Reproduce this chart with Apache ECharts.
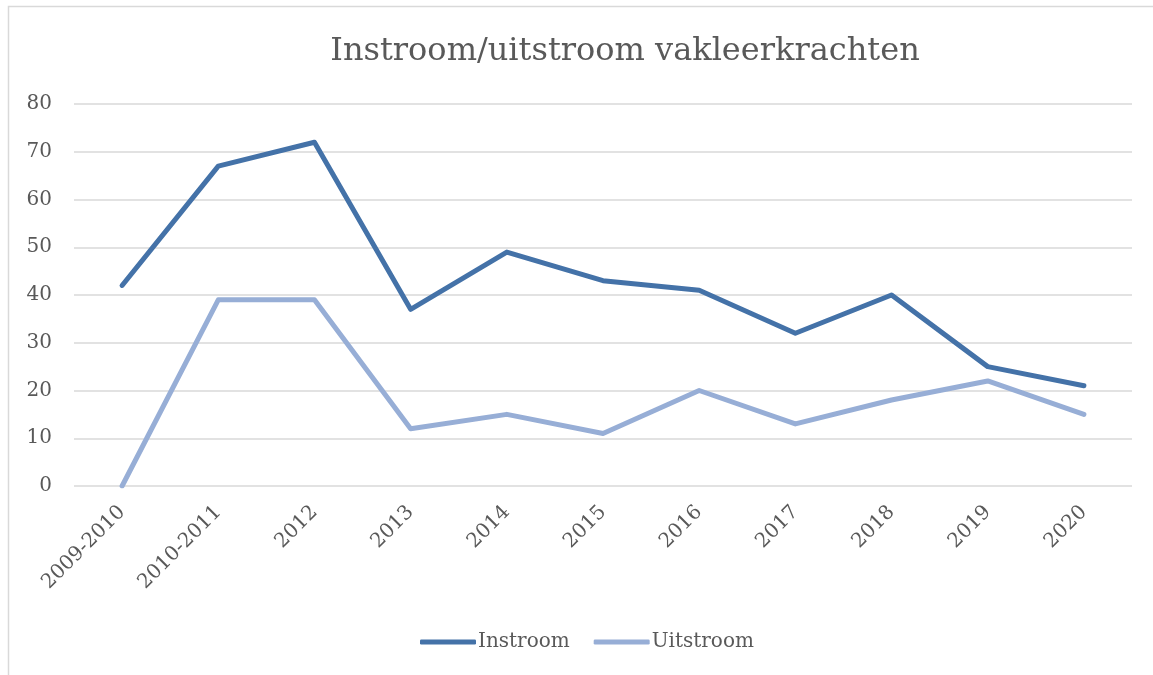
<!DOCTYPE html>
<html><head><meta charset="utf-8">
<script src="https://cdn.jsdelivr.net/npm/echarts@6/dist/echarts.min.js"></script>
<style>html,body{margin:0;padding:0;background:#fff}#c{width:1153px;height:675px}</style>
</head><body><div id="c"></div>
<script>
const categories = ['2009-2010','2010-2011','2012','2013','2014','2015','2016','2017','2018','2019','2020'];
const instroom = [42, 67, 72, 37, 49, 43, 41, 32, 40, 25, 21];
const uitstroom = [0, 39, 39, 12, 15, 11, 20, 13, 18, 22, 15];
const titleText = 'Instroom/uitstroom vakleerkrachten';
const serif = '"DejaVu Serif", serif';
const chart = echarts.init(document.getElementById('c'));
chart.setOption({
  animation: false,
  graphic: [{type:'rect', shape:{x:8.5, y:6.5, width:1300, height:800}, style:{fill:'none', stroke:'#d9d9d9', lineWidth:1.5}, silent:true}],
  title: {text: titleText, left: 620, textAlign: 'center', top: 31,
    textStyle: {fontFamily: serif, fontWeight: 'normal', fontSize: 32, color: '#595959'}},
  legend: {top: 627, left: 415, itemWidth: 56, itemHeight: 5, itemGap: 24,
    icon: 'roundRect',
    textStyle: {fontFamily: serif, fontSize: 20, color: '#595959', padding:[0,0,0,-3]},
    data: ['Instroom','Uitstroom']},
  grid: {left: 74, right: 21, top: 104, bottom: 189, containLabel: false},
  xAxis: {type: 'category', data: categories, boundaryGap: true,
    axisLine: {show: false}, axisTick: {show: false},
    axisLabel: {rotate: 45, fontFamily: serif, fontSize: 20, color: '#595959', margin: 23, interval: 0}},
  yAxis: {type: 'value', min: 0, max: 80, interval: 10,
    axisLine: {show: false}, axisTick: {show: false},
    axisLabel: {fontFamily: serif, fontSize: 20, color: '#595959', margin: 22},
    splitLine: {lineStyle: {color: '#d9d9d9', width: 1.5}}},
  series: [
    {name: 'Instroom', type: 'line', data: instroom, symbol: 'none',
     lineStyle: {width: 5, color: '#4472a8', cap: 'round', join: 'round'}, itemStyle: {color: '#4472a8'}},
    {name: 'Uitstroom', type: 'line', data: uitstroom, symbol: 'none',
     lineStyle: {width: 5, color: '#97aed6', cap: 'round', join: 'round'}, itemStyle: {color: '#97aed6'}}
  ]
});
</script></body></html>
